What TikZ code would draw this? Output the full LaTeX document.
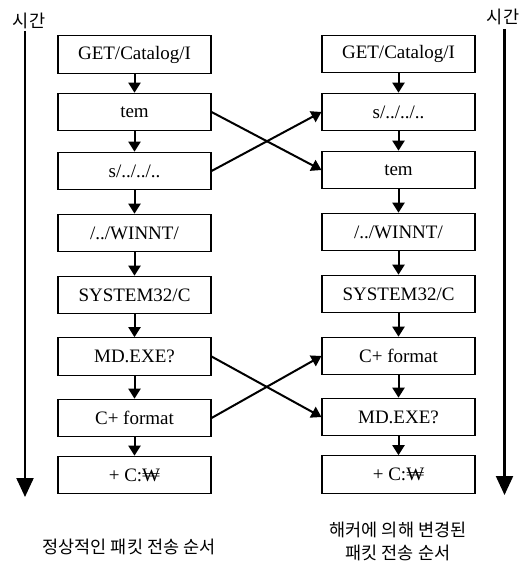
\documentclass[tikz,border=0pt]{standalone}
\usepackage{fontspec}
\setmainfont{Liberation Serif}
\newfontfamily\kr{Noto Sans CJK KR}
\usetikzlibrary{arrows.meta}
\begin{document}
\begin{tikzpicture}[x=1pt,y=-1pt,
  pkt/.style={draw, line width=1.1pt, minimum width=153pt, minimum height=37.5pt,
              inner sep=0pt, font=\fontsize{19}{22}\selectfont},
  flow/.style={line width=2pt, -{Triangle[length=10pt,width=12pt]}},
  timeline/.style={line width=2.2pt, -{Triangle[length=19pt,width=17pt]}},
  krtext/.style={font=\kr\fontsize{17.5}{23}\selectfont, align=center, inner sep=0pt}]
\useasboundingbox (0,0) rectangle (523,567);

% normal order (left column)
\node[pkt] (l1) at (134.5,54.5) {GET/Catalog/I};
\node[pkt] (l2) at (134.5,112)  {tem};
\node[pkt] (l3) at (134.5,171)  {s/../../..};
\node[pkt] (l4) at (134.5,233)  {/../WINNT/};
\node[pkt] (l5) at (134.5,295)  {SYSTEM32/C};
\node[pkt] (l6) at (134.5,356.5){MD.EXE?};
\node[pkt] (l7) at (134.5,418)  {C+ format};
\node[pkt] (l8) at (134.5,475)  {+ C:₩};

% altered order (right column)
\node[pkt] (r1) at (398.5,54)   {GET/Catalog/I};
\node[pkt] (r2) at (398.5,112)  {s/../../..};
\node[pkt] (r3) at (398.5,170)  {tem};
\node[pkt] (r4) at (398.5,232)  {/../WINNT/};
\node[pkt] (r5) at (398.5,294)  {SYSTEM32/C};
\node[pkt] (r6) at (398.5,356)  {C+ format};
\node[pkt] (r7) at (398.5,417)  {MD.EXE?};
\node[pkt] (r8) at (398.5,474.5){+ C:₩};

\foreach \a/\b in {1/2,2/3,3/4,4/5,5/6,6/7,7/8}{
  \draw[flow] (l\a) -- (l\b);
  \draw[flow] (r\a) -- (r\b);
}

% reordered packets
\draw[flow] (l2.east) -- (r3.west);
\draw[flow] (l3.east) -- (r2.west);
\draw[flow] (l6.east) -- (r7.west);
\draw[flow] (l7.east) -- (r6.west);

% time axes
\node[krtext] (tl) at (29,21) {시간};
\node[krtext] (tr) at (503,17) {시간};
\coordinate (tlend) at (25,497);
\coordinate (trend) at (504.5,495);
\draw[timeline] (25,31) -- (tlend);
\draw[timeline] (504.5,29) -- (trend);

% captions
\node[krtext] (capl) at (129,547) {정상적인 패킷 전송 순서};
\node[krtext] (capr) at (398,541) {해커에 의해 변경된\\패킷 전송 순서};
\end{tikzpicture}
\end{document}
